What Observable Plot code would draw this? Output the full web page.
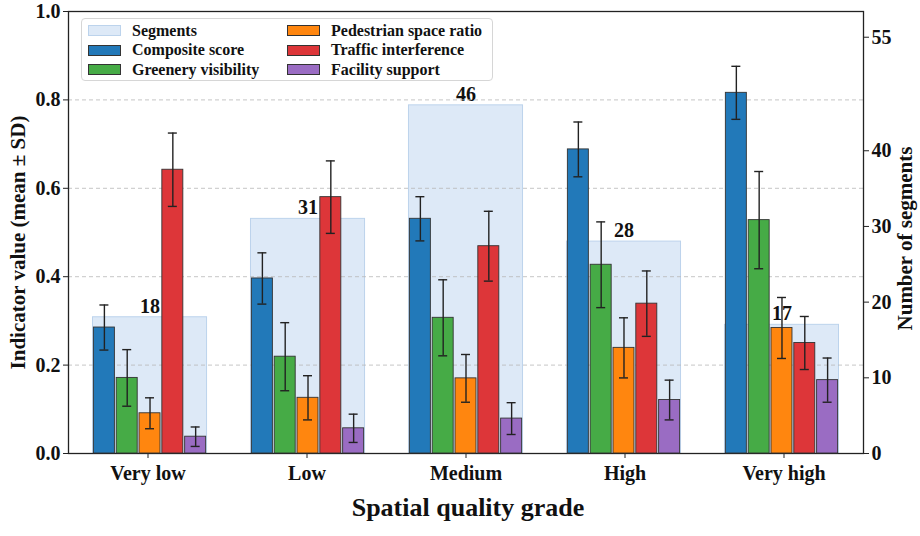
<!DOCTYPE html>
<html>
<head>
<meta charset="utf-8">
<script src="https://cdn.jsdelivr.net/npm/d3@7"></script>
<script src="https://cdn.jsdelivr.net/npm/@observablehq/plot@0.6"></script>
<style>
  html, body { margin: 0; padding: 0; background: #fff; }
  #wrap { position: relative; width: 920px; height: 536px; font-family: "Liberation Serif", "Times New Roman", Times, serif; }
  #wrap svg { position: absolute; left: 0; top: 0; }
  #legend {
    position: absolute; left: 81px; top: 18px; width: 412px; height: 63px;
    background: rgba(255,255,255,0.92); border: 1px solid #d6d6d6; border-radius: 4px;
    display: grid; grid-template-columns: 199px auto; grid-template-rows: repeat(3, 19.6px);
    grid-auto-flow: column; padding: 2px 0 0 6px; box-sizing: border-box;
    font-weight: bold; font-size: 16px; color: #111;
  }
  .item { display: flex; align-items: center; white-space: nowrap; }
  .sw { width: 31px; height: 9px; margin-right: 11px; border: 1px solid #333; }
</style>
</head>
<body>
<div id="wrap"></div>
<script>
// ---- data ----
const grades = ["Very low", "Low", "Medium", "High", "Very high"];
const indicators = ["Composite score", "Greenery visibility", "Pedestrian space ratio", "Traffic interference", "Facility support"];
const indicatorColors = ["#2279b9", "#46ab46", "#ff860f", "#dd3639", "#9a6cc3"];
const segmentCounts = [18, 31, 46, 28, 17];

const compositeMean = [0.285, 0.396, 0.531, 0.688, 0.816];
const compositeSD   = [0.051, 0.058, 0.050, 0.062, 0.060];
const greeneryMean  = [0.171, 0.219, 0.307, 0.427, 0.528];
const greenerySD    = [0.064, 0.077, 0.086, 0.097, 0.110];
const pedestrianMean= [0.091, 0.126, 0.170, 0.239, 0.284];
const pedestrianSD  = [0.035, 0.050, 0.054, 0.068, 0.069];
const trafficMean   = [0.642, 0.580, 0.469, 0.339, 0.250];
const trafficSD     = [0.083, 0.082, 0.079, 0.074, 0.060];
const facilityMean  = [0.038, 0.057, 0.079, 0.121, 0.166];
const facilitySD    = [0.022, 0.032, 0.036, 0.045, 0.050];

const valueTicks = [0, 0.2, 0.4, 0.6, 0.8, 1.0];
const gridTicks = [0.2, 0.4, 0.6, 0.8];
const countTicks = [0, 10, 20, 30, 40, 55];

const yTitle = "Indicator value (mean ± SD)";
const yRightTitle = "Number of segments";
const xTitle = "Spatial quality grade";

// ---- tables built from the arrays ----
const means = [compositeMean, greeneryMean, pedestrianMean, trafficMean, facilityMean];
const sds = [compositeSD, greenerySD, pedestrianSD, trafficSD, facilitySD];
const rows = [];
grades.forEach((g, gi) => indicators.forEach((ind, ii) => {
  const m = means[ii][gi], s = sds[ii][gi];
  rows.push({grade: g, indicator: ind, mean: m, lo: m - s, hi: m + s});
}));
const segData = grades.map((g, i) => ({grade: g, count: segmentCounts[i]}));

// ---- shared layout ----
const FONT = '"Liberation Serif", "Times New Roman", Times, serif';
const base = {
  width: 920, height: 536,
  marginLeft: 68, marginRight: 57, marginTop: 11, marginBottom: 83,
  style: {background: "transparent", overflow: "visible", fontFamily: FONT, color: "#111"}
};
const gradeBand = {domain: grades, paddingInner: 0.278, paddingOuter: 0.155, round: false};

// Layer 1: segments (right axis)
const segPlot = Plot.plot({
  ...base,
  x: {...gradeBand, axis: null},
  y: {domain: [0, 58.4], axis: null},
  marks: [
    Plot.barY(segData, {x: "grade", y: "count", fill: "#dde9f7", stroke: "#bcd3ec", strokeWidth: 1}),
    Plot.text(segData, {x: "grade", y: "count", text: d => String(d.count), dy: -11,
      fontSize: 20, fontWeight: "bold", fill: "#111"}),
    Plot.axisY(countTicks, {anchor: "right", tickSize: 5, tickPadding: 3, fontSize: 20,
      fontWeight: "bold", label: null, stroke: "#222"}),
    Plot.text([yRightTitle], {frameAnchor: "right", dx: 42, dy: 6, rotate: -90, text: d => d,
      textAnchor: "middle", lineAnchor: "middle", fontSize: 21, fontWeight: "bold", fill: "#111"})
  ]
});

// Layer 2: left axis, grid, x axis, frame
const axisPlot = Plot.plot({
  ...base,
  x: {...gradeBand},
  y: {domain: [0, 1]},
  marks: [
    Plot.gridY(gridTicks, {stroke: "#b8b8b8", strokeOpacity: 0.8, strokeDasharray: "4,3"}),
    Plot.axisY(valueTicks, {tickFormat: d3.format(".1f"), tickSize: 5, tickPadding: 3,
      fontSize: 20, fontWeight: "bold", label: null, stroke: "#222"}),
    Plot.axisX({tickSize: 5, tickPadding: 7, fontSize: 20, fontWeight: "bold", label: null, stroke: "#222"}),
    Plot.frame({stroke: "#222", strokeWidth: 1.3}),
    Plot.text([yTitle], {frameAnchor: "left", dx: -50, dy: 10, rotate: -90, text: d => d,
      textAnchor: "middle", lineAnchor: "middle", fontSize: 21, fontWeight: "bold", fill: "#111"}),
    Plot.text([xTitle], {frameAnchor: "bottom", dx: 2, dy: 54, text: d => d,
      textAnchor: "middle", lineAnchor: "middle", fontSize: 26, fontWeight: "bold", fill: "#111"})
  ]
});

// Layer 3: indicator bars with error bars
const barPlot = Plot.plot({
  ...base,
  fx: {...gradeBand, axis: null},
  x: {domain: indicators, paddingInner: 0.08, paddingOuter: 0.04, round: false, axis: null},
  y: {domain: [0, 1], axis: null},
  color: {domain: indicators, range: indicatorColors},
  marks: [
    Plot.barY(rows, {fx: "grade", x: "indicator", y: "mean", fill: "indicator", stroke: "#333", strokeWidth: 0.9}),
    Plot.ruleX(rows, {fx: "grade", x: "indicator", y1: "lo", y2: "hi", stroke: "#222", strokeWidth: 1.4}),
    Plot.tickY(rows, {fx: "grade", x: "indicator", y: "lo", inset: 6, stroke: "#222", strokeWidth: 1.4}),
    Plot.tickY(rows, {fx: "grade", x: "indicator", y: "hi", inset: 6, stroke: "#222", strokeWidth: 1.4})
  ]
});

const wrap = document.getElementById("wrap");
wrap.append(segPlot, axisPlot, barPlot);

// Legend
const legend = document.createElement("div");
legend.id = "legend";
const legendItems = [{label: "Segments", fill: "#dde9f7", stroke: "#bcd3ec"}]
  .concat(indicators.map((d, i) => ({label: d, fill: indicatorColors[i], stroke: "#333"})));
for (const it of legendItems) {
  const el = document.createElement("div");
  el.className = "item";
  const sw = document.createElement("span");
  sw.className = "sw";
  sw.style.background = it.fill;
  sw.style.borderColor = it.stroke;
  const tx = document.createElement("span");
  tx.textContent = it.label;
  el.append(sw, tx);
  legend.append(el);
}
wrap.append(legend);
</script>
</body>
</html>
